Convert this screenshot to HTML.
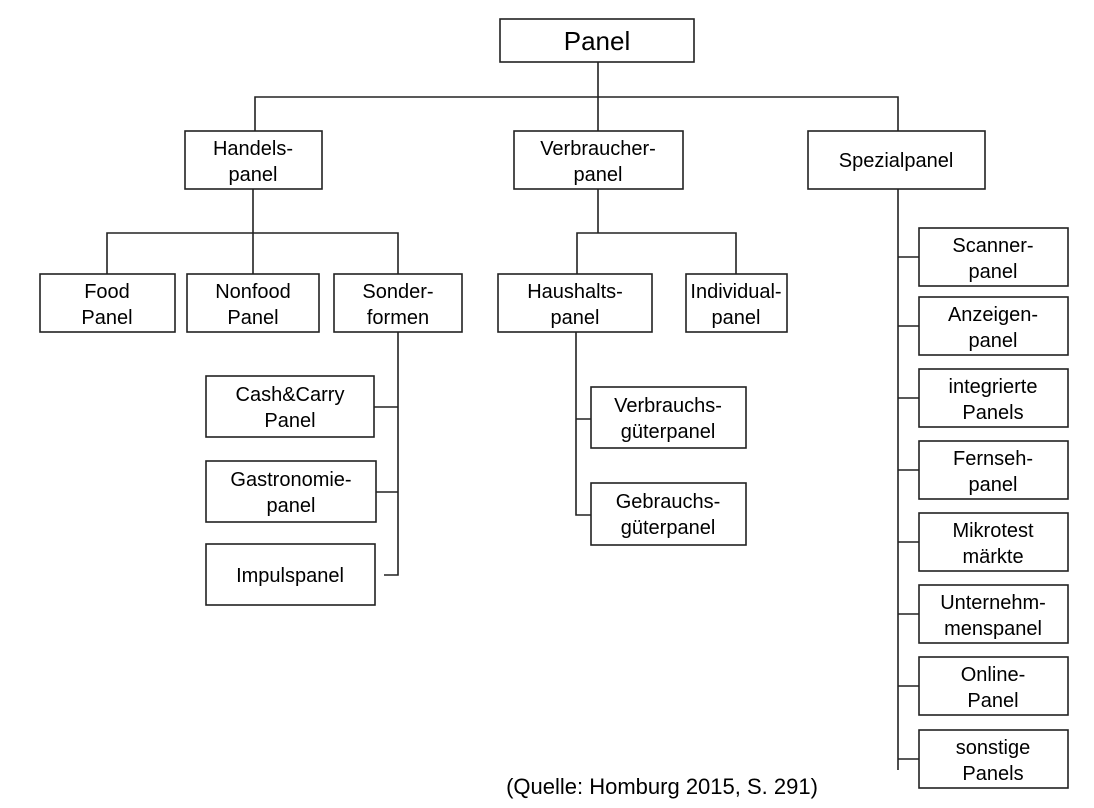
<!DOCTYPE html>
<html><head><meta charset="utf-8"><style>
html,body{margin:0;padding:0;background:#fff;}
svg{display:block;}
text{font-family:"Liberation Sans",Arial,sans-serif;fill:#000;}
</style></head><body>
<svg width="1094" height="808" viewBox="0 0 1094 808" xmlns="http://www.w3.org/2000/svg">
<g fill="#fff" stroke="#222" stroke-width="1.6">
<rect x="500" y="19" width="194" height="43"/>
<rect x="185" y="131" width="137" height="58"/>
<rect x="514" y="131" width="169" height="58"/>
<rect x="808" y="131" width="177" height="58"/>
<rect x="40" y="274" width="135" height="58"/>
<rect x="187" y="274" width="132" height="58"/>
<rect x="334" y="274" width="128" height="58"/>
<rect x="498" y="274" width="154" height="58"/>
<rect x="686" y="274" width="101" height="58"/>
<rect x="206" y="376" width="168" height="61"/>
<rect x="206" y="461" width="170" height="61"/>
<rect x="206" y="544" width="169" height="61"/>
<rect x="591" y="387" width="155" height="61"/>
<rect x="591" y="483" width="155" height="62"/>
<rect x="919" y="228" width="149" height="58"/>
<rect x="919" y="297" width="149" height="58"/>
<rect x="919" y="369" width="149" height="58"/>
<rect x="919" y="441" width="149" height="58"/>
<rect x="919" y="513" width="149" height="58"/>
<rect x="919" y="585" width="149" height="58"/>
<rect x="919" y="657" width="149" height="58"/>
<rect x="919" y="730" width="149" height="58"/>
</g>
<g fill="none" stroke="#222" stroke-width="1.6">
<path d="M598 62V131M255 131V97H898V131"/>
<path d="M253 189V233M107 274V233H398V274M253 233V274"/>
<path d="M398 332V575H384M374 407H398M376 492H398"/>
<path d="M598 189V233M577 274V233H736V274"/>
<path d="M576 332V515H591M576 419H591"/>
<path d="M898 189V770M898 257H919M898 326H919M898 398H919M898 470H919M898 542H919M898 614H919M898 686H919M898 759H919"/>
</g>
<g font-size="20" text-anchor="middle">
<text x="597" y="50" font-size="26">Panel</text>
<text x="253" y="155">Handels-</text><text x="253" y="181">panel</text>
<text x="598" y="155">Verbraucher-</text><text x="598" y="181">panel</text>
<text x="896" y="167">Spezialpanel</text>
<text x="107" y="298">Food</text><text x="107" y="324">Panel</text>
<text x="253" y="298">Nonfood</text><text x="253" y="324">Panel</text>
<text x="398" y="298">Sonder-</text><text x="398" y="324">formen</text>
<text x="575" y="298">Haushalts-</text><text x="575" y="324">panel</text>
<text x="736" y="298">Individual-</text><text x="736" y="324">panel</text>
<text x="290" y="401">Cash&amp;Carry</text><text x="290" y="427">Panel</text>
<text x="291" y="486">Gastronomie-</text><text x="291" y="512">panel</text>
<text x="290" y="582">Impulspanel</text>
<text x="668" y="412">Verbrauchs-</text><text x="668" y="438">güterpanel</text>
<text x="668" y="508">Gebrauchs-</text><text x="668" y="534">güterpanel</text>
<text x="993" y="252">Scanner-</text><text x="993" y="278">panel</text>
<text x="993" y="321">Anzeigen-</text><text x="993" y="347">panel</text>
<text x="993" y="393">integrierte</text><text x="993" y="419">Panels</text>
<text x="993" y="465">Fernseh-</text><text x="993" y="491">panel</text>
<text x="993" y="537">Mikrotest</text><text x="993" y="563">märkte</text>
<text x="993" y="609">Unternehm-</text><text x="993" y="635">menspanel</text>
<text x="993" y="681">Online-</text><text x="993" y="707">Panel</text>
<text x="993" y="754">sonstige</text><text x="993" y="780">Panels</text>
<text x="662" y="794" font-size="22">(Quelle: Homburg 2015, S. 291)</text>
</g>
</svg>
</body></html>
